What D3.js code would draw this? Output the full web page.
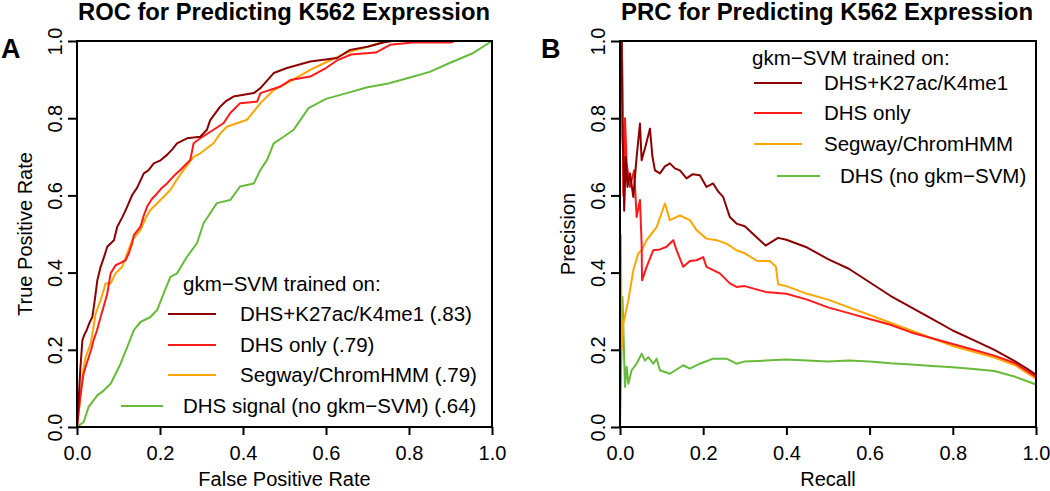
<!DOCTYPE html>
<html><head><meta charset="utf-8">
<script src="https://cdn.jsdelivr.net/npm/d3@7"></script>
<style>body{margin:0;background:#fff}svg{display:block}text{font-family:"Liberation Sans",Arial,sans-serif;fill:#000}</style>
</head><body>
<svg id="c" width="1050" height="491"></svg>
<script>
// ---------- data ----------
const tickValues = [0, 0.2, 0.4, 0.6, 0.8, 1.0];
const seriesNames = ["DHS+K27ac/K4me1", "DHS only", "Segway/ChromHMM", "DHS signal (no gkm\u2212SVM)"];
const prcNames = ["DHS+K27ac/K4me1", "DHS only", "Segway/ChromHMM", "DHS (no gkm\u2212SVM)"];
const aucValues = [".83", ".79", ".79", ".64"];
const colors = ["#8b0000", "#ff1a1a", "#ffa500", "#66bb3a"];

// ROC: [false positive rate, true positive rate]
const rocMarks = [[0,0],[0.004,0.069],[0.008,0.15],[0.013,0.225],[0.018,0.24],[0.023,0.25],[0.03,0.27],[0.037,0.285],[0.043,0.33],[0.049,0.38],[0.057,0.415],[0.065,0.44],[0.073,0.467],[0.089,0.484],[0.097,0.519],[0.11,0.545],[0.121,0.571],[0.133,0.601],[0.145,0.62],[0.161,0.657],[0.172,0.665],[0.185,0.683],[0.2,0.69],[0.217,0.705],[0.23,0.72],[0.241,0.735],[0.265,0.748],[0.297,0.752],[0.313,0.77],[0.321,0.795],[0.345,0.83],[0.36,0.845],[0.377,0.856],[0.426,0.865],[0.442,0.878],[0.474,0.917],[0.506,0.93],[0.562,0.947],[0.627,0.956],[0.658,0.977],[0.7,0.985],[0.738,0.996],[0.76,1],[1,1]];
const rocDHS = [[0,0],[0.004,0.04],[0.008,0.078],[0.012,0.11],[0.016,0.139],[0.022,0.16],[0.028,0.18],[0.034,0.2],[0.04,0.225],[0.048,0.25],[0.057,0.285],[0.065,0.315],[0.073,0.346],[0.081,0.398],[0.093,0.419],[0.105,0.425],[0.117,0.432],[0.125,0.45],[0.133,0.476],[0.137,0.497],[0.153,0.519],[0.16,0.545],[0.169,0.571],[0.18,0.59],[0.193,0.605],[0.205,0.62],[0.217,0.631],[0.233,0.65],[0.249,0.666],[0.273,0.692],[0.281,0.735],[0.297,0.748],[0.329,0.77],[0.353,0.787],[0.369,0.813],[0.393,0.839],[0.434,0.843],[0.442,0.865],[0.49,0.882],[0.514,0.899],[0.562,0.908],[0.6,0.93],[0.627,0.95],[0.66,0.965],[0.72,0.97],[0.754,0.99],[0.81,0.996],[0.9,0.996],[0.91,1],[1,1]];
const rocSegway = [[0,0],[0.004,0.035],[0.008,0.08],[0.013,0.13],[0.017,0.16],[0.021,0.182],[0.033,0.216],[0.04,0.26],[0.045,0.294],[0.057,0.329],[0.069,0.372],[0.081,0.372],[0.093,0.398],[0.109,0.415],[0.121,0.45],[0.133,0.484],[0.153,0.51],[0.165,0.54],[0.177,0.562],[0.201,0.588],[0.225,0.614],[0.24,0.64],[0.257,0.666],[0.281,0.70],[0.297,0.709],[0.329,0.735],[0.345,0.76],[0.361,0.778],[0.41,0.796],[0.442,0.839],[0.474,0.873],[0.506,0.891],[0.562,0.925],[0.6,0.945],[0.65,0.97],[0.7,0.985],[0.746,1],[1,1]];
const rocSignal = [[0,0],[0.016,0.013],[0.028,0.052],[0.049,0.082],[0.065,0.095],[0.081,0.112],[0.093,0.138],[0.105,0.164],[0.121,0.207],[0.137,0.251],[0.153,0.272],[0.177,0.285],[0.193,0.303],[0.209,0.346],[0.225,0.389],[0.241,0.398],[0.265,0.441],[0.289,0.476],[0.305,0.528],[0.337,0.58],[0.369,0.588],[0.393,0.623],[0.426,0.631],[0.442,0.666],[0.458,0.692],[0.474,0.735],[0.498,0.752],[0.522,0.77],[0.538,0.795],[0.558,0.826],[0.6,0.85],[0.65,0.865],[0.7,0.88],[0.75,0.89],[0.8,0.905],[0.85,0.92],[0.898,0.943],[0.955,0.969],[1,1]];

// PRC: [recall, precision]
const prcMarks = [[0.004,1.0],[0.006,0.75],[0.008,0.7],[0.01,0.56],[0.014,0.7],[0.018,0.622],[0.024,0.657],[0.032,0.596],[0.04,0.7],[0.048,0.786],[0.052,0.691],[0.062,0.73],[0.072,0.773],[0.078,0.70],[0.084,0.665],[0.096,0.657],[0.108,0.675],[0.12,0.683],[0.132,0.67],[0.144,0.665],[0.16,0.644],[0.175,0.655],[0.192,0.652],[0.208,0.622],[0.224,0.631],[0.236,0.61],[0.248,0.596],[0.264,0.544],[0.28,0.527],[0.3,0.52],[0.32,0.5],[0.35,0.47],[0.38,0.49],[0.4,0.485],[0.45,0.465],[0.5,0.435],[0.55,0.41],[0.6,0.375],[0.65,0.34],[0.7,0.31],[0.75,0.28],[0.8,0.25],[0.85,0.225],[0.9,0.2],[0.95,0.17],[0.98,0.15],[1,0.135]];
const prcDHS = [[0.004,1.0],[0.006,0.9],[0.008,0.6],[0.012,0.8],[0.016,0.683],[0.024,0.622],[0.034,0.665],[0.04,0.544],[0.048,0.588],[0.052,0.475],[0.053,0.38],[0.064,0.415],[0.08,0.458],[0.096,0.46],[0.112,0.467],[0.128,0.484],[0.136,0.458],[0.152,0.415],[0.168,0.43],[0.184,0.432],[0.2,0.44],[0.208,0.415],[0.24,0.398],[0.264,0.372],[0.28,0.363],[0.3,0.365],[0.35,0.35],[0.4,0.345],[0.45,0.33],[0.5,0.31],[0.55,0.295],[0.6,0.28],[0.65,0.265],[0.7,0.245],[0.75,0.23],[0.8,0.215],[0.85,0.2],[0.9,0.185],[0.95,0.165],[1,0.13]];
const prcSegway = [[0.002,0.5],[0.004,0.2],[0.008,0.268],[0.02,0.328],[0.032,0.406],[0.044,0.45],[0.052,0.458],[0.064,0.484],[0.088,0.518],[0.108,0.579],[0.12,0.536],[0.144,0.548],[0.168,0.536],[0.184,0.51],[0.208,0.488],[0.232,0.484],[0.256,0.475],[0.28,0.458],[0.3,0.45],[0.33,0.43],[0.36,0.43],[0.375,0.415],[0.38,0.37],[0.4,0.365],[0.45,0.345],[0.5,0.33],[0.55,0.31],[0.6,0.29],[0.65,0.27],[0.7,0.25],[0.75,0.23],[0.8,0.21],[0.85,0.195],[0.9,0.18],[0.95,0.16],[1,0.125]];
const prcSignal = [[0,0],[0.006,0.337],[0.012,0.104],[0.016,0.156],[0.02,0.112],[0.028,0.147],[0.04,0.164],[0.052,0.19],[0.06,0.172],[0.068,0.181],[0.08,0.164],[0.088,0.177],[0.096,0.147],[0.12,0.138],[0.152,0.16],[0.168,0.151],[0.192,0.164],[0.224,0.177],[0.256,0.177],[0.28,0.164],[0.3,0.17],[0.35,0.172],[0.4,0.175],[0.45,0.172],[0.5,0.17],[0.55,0.172],[0.6,0.17],[0.65,0.165],[0.7,0.162],[0.75,0.158],[0.8,0.155],[0.85,0.15],[0.9,0.145],[0.95,0.13],[1,0.11]];

// ---------- drawing ----------
const svg = d3.select("#c");

function panel(cfg) {
  const x = d3.scaleLinear().domain([0, 1]).range([cfg.left, cfg.right]);
  const y = d3.scaleLinear().domain([0, 1]).range([cfg.bottom, cfg.top]);
  const g = svg.append("g");

  const line = d3.line().x(d => x(d[0])).y(d => y(d[1]));
  [3, 2, 1, 0].forEach(i => {
    g.append("path").datum(cfg.series[i]).attr("d", line)
      .attr("fill", "none").attr("stroke", colors[i]).attr("stroke-width", 2)
      .attr("stroke-linejoin", "round");
  });

  g.append("rect").attr("x", cfg.left).attr("y", cfg.top)
    .attr("width", cfg.right - cfg.left).attr("height", cfg.bottom - cfg.top)
    .attr("fill", "none").attr("stroke", "#000").attr("stroke-width", 2);

  const xa = g.append("g").attr("transform", `translate(0,${cfg.bottom})`)
    .call(d3.axisBottom(x).tickValues(tickValues).tickFormat(d3.format(".1f")).tickSize(8));
  xa.select(".domain").remove();
  xa.selectAll(".tick line").attr("stroke", "#000").attr("stroke-width", 2);
  xa.selectAll(".tick text").attr("font-size", 20).attr("font-family", "Liberation Sans, Arial, sans-serif")
    .attr("y", 0).attr("dy", 0).attr("transform", "translate(0,33)");

  const ya = g.append("g").attr("transform", `translate(${cfg.left},0)`)
    .call(d3.axisLeft(y).tickValues(tickValues).tickFormat(d3.format(".1f")).tickSize(9));
  ya.select(".domain").remove();
  ya.selectAll(".tick line").attr("stroke", "#000").attr("stroke-width", 2);
  ya.selectAll(".tick text").attr("font-size", 20).attr("font-family", "Liberation Sans, Arial, sans-serif")
    .attr("x", 0).attr("dy", 0).attr("text-anchor", "middle")
    .attr("transform", "translate(-15,0) rotate(-90)");

  g.append("text").attr("x", (cfg.left + cfg.right) / 2).attr("y", 486)
    .attr("text-anchor", "middle").attr("font-size", 20).text(cfg.xTitle);
  g.append("text").attr("transform", `translate(${cfg.yTitleX},${(cfg.top + cfg.bottom) / 2}) rotate(-90)`)
    .attr("text-anchor", "middle").attr("font-size", 20).text(cfg.yTitle);

  g.append("text").attr("x", cfg.titleX).attr("y", 20).attr("text-anchor", "middle")
    .attr("font-size", 23).attr("font-weight", "bold")
    .attr("textLength", 412).attr("lengthAdjust", "spacingAndGlyphs").text(cfg.title);
  g.append("text").attr("x", cfg.letterX).attr("y", 58).attr("font-size", 27)
    .attr("font-weight", "bold").text(cfg.letter);

  const L = cfg.legend;
  g.append("text").attr("x", L.headX).attr("y", L.rows[0]).attr("dy", "0.36em")
    .attr("font-size", 20.5).text("gkm\u2212SVM trained on:");
  cfg.labels.forEach((lab, i) => {
    const ly = L.rows[i + 1];
    const lx = i < 3 ? L.lineX : L.lineX4;
    g.append("line").attr("x1", lx[0]).attr("x2", lx[1]).attr("y1", ly).attr("y2", ly)
      .attr("stroke", colors[i]).attr("stroke-width", 2);
    g.append("text").attr("x", i < 3 ? L.textX : L.textX4).attr("y", ly).attr("dy", "0.36em")
      .attr("font-size", 20.5).text(lab);
  });
}

panel({
  left: 77, right: 492, top: 41, bottom: 427,
  series: [rocMarks, rocDHS, rocSegway, rocSignal],
  xTitle: "False Positive Rate", yTitle: "True Positive Rate", yTitleX: 32,
  title: "ROC for Predicting K562 Expression", titleX: 284, letter: "A", letterX: 1,
  labels: seriesNames.map((n, i) => `${n} (${aucValues[i]})`),
  legend: { headX: 183, rows: [284, 314, 345, 375, 406], lineX: [168, 216], lineX4: [121, 163], textX: 240, textX4: 183 }
});

panel({
  left: 620, right: 1036, top: 41, bottom: 427,
  series: [prcMarks, prcDHS, prcSegway, prcSignal],
  xTitle: "Recall", yTitle: "Precision", yTitleX: 575,
  title: "PRC for Predicting K562 Expression", titleX: 827, letter: "B", letterX: 541,
  labels: prcNames,
  legend: { headX: 752, rows: [58, 83, 113, 144, 176], lineX: [754, 802], lineX4: [777, 820], textX: 824, textX4: 840 }
});
</script>
</body></html>
